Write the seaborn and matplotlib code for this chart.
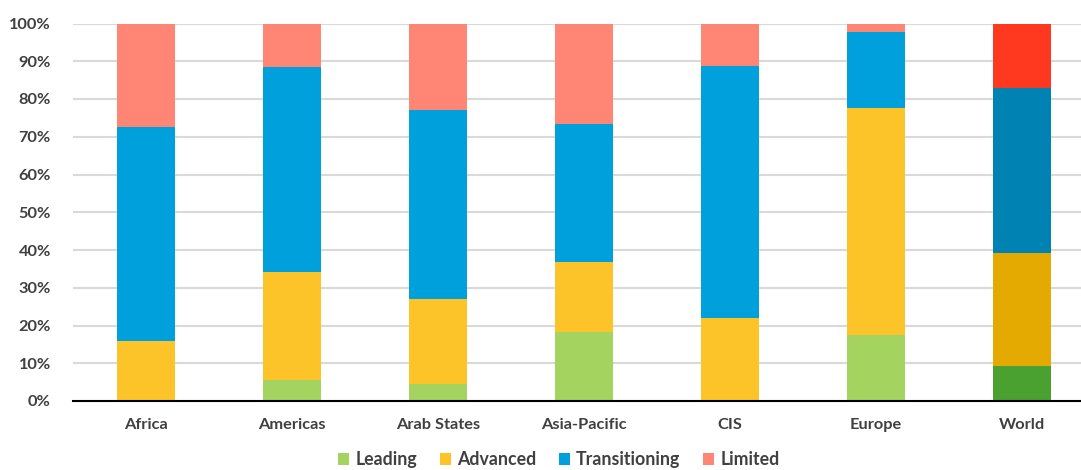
import matplotlib
matplotlib.use("Agg")
import matplotlib.pyplot as plt
import seaborn as sns
import pandas as pd
import numpy as np
from matplotlib.patches import Patch

regions = ["Africa", "Americas", "Arab States", "Asia-Pacific", "CIS", "Europe", "World"]
series = ["Leading", "Advanced", "Transitioning", "Limited"]
leading = [0.0, 5.6, 4.4, 18.3, 0.0, 17.6, 9.3]
advanced = [15.9, 28.6, 22.7, 18.4, 22.1, 60.1, 29.9]
transitioning = [56.7, 54.2, 50.0, 36.8, 66.6, 20.0, 43.7]
limited = [27.4, 11.6, 22.9, 26.5, 11.3, 2.3, 17.1]

base_colors = ["#A5D35F", "#FDC42A", "#00A0DD", "#FF8674"]
world_colors = ["#4BA12F", "#E5AA02", "#0082B3", "#FF3920"]

sns.set_theme(style="white")
plt.rcParams["font.family"] = ["Lato", "DejaVu Sans"]

fig = plt.figure(figsize=(10.81, 4.70), dpi=100)
ax = fig.add_axes([73/1081, 69/470, 1022/1081, 377.5/470])

vals = [leading, advanced, transitioning, limited]
cum = np.cumsum(np.array(vals), axis=0)
df = pd.DataFrame({"region": regions})

# draw from top layer down so lower layers overlay
for i in range(3, -1, -1):
    d = df.copy()
    d["v"] = cum[i]
    pal = {r: (world_colors[i] if r == "World" else base_colors[i]) for r in regions}
    sns.barplot(data=d, x="region", y="v", hue="region", palette=pal, order=regions,
                width=0.4, saturation=1, legend=False, ax=ax, zorder=3, linewidth=0)

ax.set_ylim(0, 100)
ax.set_xlim(-0.5, 6.5)
ax.set_yticks(range(0, 101, 10))
ax.set_yticklabels([f"{v}%" for v in range(0, 101, 10)])
ax.yaxis.grid(True, color="#D9D9D9", linewidth=1.5, zorder=0)
ax.set_axisbelow(True)
for s in ["top", "right", "left"]:
    ax.spines[s].set_visible(False)
ax.spines["bottom"].set_color("#000000")
ax.spines["bottom"].set_linewidth(1.5)
ax.spines["bottom"].set_zorder(5)
ax.set_xlabel("")
ax.set_ylabel("")
ax.tick_params(axis="y", length=0, pad=16, labelsize=11.8, labelcolor="#404040")
ax.tick_params(axis="x", length=0, pad=12, labelsize=11.8, labelcolor="#404040")
for lab in ax.get_xticklabels() + ax.get_yticklabels():
    lab.set_fontweight("bold")

handles = [Patch(facecolor=c, edgecolor="none") for c in base_colors]
leg = fig.legend(handles, series, loc="center", bbox_to_anchor=(0.517, 0.022), ncol=4,
                 frameon=False, handlelength=0.6, handleheight=0.6, handletextpad=0.35,
                 columnspacing=1.3, prop={"size": 12.8, "weight": "bold"})
for t in leg.get_texts():
    t.set_color("#404040")

fig.savefig("out.png", dpi=100)
